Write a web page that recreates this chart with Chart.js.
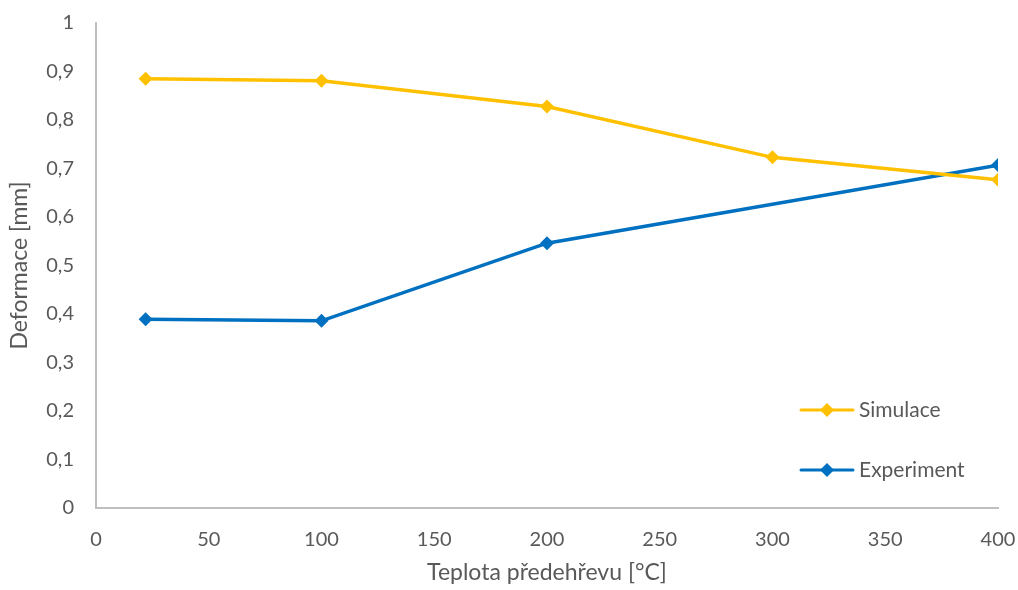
<!DOCTYPE html>
<html>
<head>
<meta charset="utf-8">
<script src="https://cdn.jsdelivr.net/npm/chart.js@4"></script>
<style>
  html, body { margin: 0; padding: 0; background: #fff; }
  #wrap { width: 1018px; height: 590px; position: relative; }
</style>
</head>
<body>
<div id="wrap"><canvas id="chart"></canvas></div>
<script>
// data
var temps = [22, 100, 200, 300, 400];
var simulace = [0.885, 0.881, 0.828, 0.723, 0.677];
var expTemps = [22, 100, 200, 400];
var experiment = [0.389, 0.386, 0.546, 0.707];
var seriesNames = ['Simulace', 'Experiment'];

const FONT = 'Lato, "Open Sans", sans-serif';
const TEXT = '#595959';

// draws the legend inside the plot, bottom right
var insideLegend = {
    id: 'insideLegend',
    afterDraw: function(chart){
        const ctx = chart.ctx;
        const x0 = 801;
        let y = 410;
        ctx.save();
        chart.data.datasets.forEach(function(ds){
            ctx.strokeStyle = ds.borderColor;
            ctx.lineWidth = 3;
            ctx.lineCap = 'round';
            ctx.beginPath();
            ctx.moveTo(x0, y);
            ctx.lineTo(x0 + 52, y);
            ctx.stroke();
            ctx.fillStyle = ds.borderColor;
            ctx.beginPath();
            ctx.moveTo(x0 + 26, y - 7);
            ctx.lineTo(x0 + 33, y);
            ctx.lineTo(x0 + 26, y + 7);
            ctx.lineTo(x0 + 19, y);
            ctx.closePath();
            ctx.fill();
            ctx.fillStyle = TEXT;
            ctx.font = '21px ' + FONT;
            ctx.textBaseline = 'middle';
            ctx.fillText(ds.label, x0 + 58, y);
            y += 60;
        });
        ctx.restore();
    }
};

const ctx = document.getElementById('chart');
new Chart(ctx, {
    type: 'line',
    data: {
        datasets: [
            {
                label: seriesNames[0],
                data: temps.map((t, i) => ({x: t, y: simulace[i]})),
                borderColor: '#FFC000',
                backgroundColor: '#FFC000',
                borderWidth: 3.5,
                pointStyle: 'rectRot',
                pointRadius: 7,
                pointHoverRadius: 7,
                pointBorderWidth: 0,
                fill: false
            },
            {
                label: seriesNames[1],
                data: expTemps.map((t, i) => ({x: t, y: experiment[i]})),
                borderColor: '#0070C0',
                backgroundColor: '#0070C0',
                borderWidth: 3.5,
                pointStyle: 'rectRot',
                pointRadius: 7,
                pointHoverRadius: 7,
                pointBorderWidth: 0,
                fill: false
            }
        ]
    },
    options: {
        responsive: true,
        maintainAspectRatio: false,
        animation: false,
        layout: { padding: { top: 23, right: 20, left: 0, bottom: 0 } },
        plugins: {
            legend: { display: false },
            tooltip: { enabled: false }
        },
        scales: {
            x: {
                type: 'linear',
                min: 0,
                max: 400,
                ticks: { stepSize: 50, color: TEXT, font: { family: FONT, size: 20 }, padding: 20, maxRotation: 0 },
                grid: { display: false, drawTicks: false },
                border: { color: '#BFBFBF', width: 2 },
                title: { display: true, text: 'Teplota předehřevu [°C]', color: TEXT, font: { family: FONT, size: 23 }, padding: { top: 10 } },
                afterFit: function(s){ s.height = 82; s.paddingLeft = 0; s.paddingRight = 0; }
            },
            y: {
                min: 0,
                max: 1,
                ticks: {
                    stepSize: 0.1, color: TEXT, font: { family: FONT, size: 20 }, padding: 22,
                    callback: v => String(Math.round(v * 10) / 10).replace('.', ',')
                },
                grid: { display: false, drawTicks: false },
                border: { color: '#BFBFBF', width: 2 },
                title: { display: true, text: 'Deformace [mm]', color: TEXT, font: { family: FONT, size: 23 }, padding: { top: 6, bottom: 0 } },
                afterFit: function(s){ s.width = 96; s.paddingTop = 0; s.paddingBottom = 0; }
            }
        }
    },
    plugins: [insideLegend]
});
</script>
</body>
</html>
